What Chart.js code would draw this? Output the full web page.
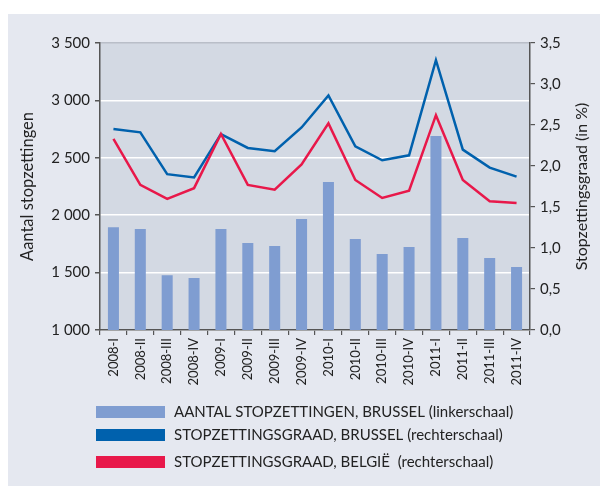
<!DOCTYPE html>
<html><head><meta charset="utf-8">
<script src="https://cdn.jsdelivr.net/npm/chart.js@4/dist/chart.umd.min.js"></script>
<style>html,body{margin:0;padding:0;background:#fff}#wrap{width:600px;height:486px;position:relative}</style>
</head><body><div id="wrap"><canvas id="c"></canvas></div>
<script>
const categories = ['2008-I','2008-II','2008-III','2008-IV','2009-I','2009-II','2009-III','2009-IV','2010-I','2010-II','2010-III','2010-IV','2011-I','2011-II','2011-III','2011-IV'];
const aantalBrussel = [1895,1880,1478,1453,1880,1758,1732,1967,2289,1793,1662,1723,2690,1801,1627,1549];
const graadBrussel = [2.45,2.41,1.90,1.86,2.39,2.22,2.18,2.47,2.86,2.24,2.07,2.13,3.29,2.20,1.98,1.87];
const graadBelgie  = [2.33,1.77,1.60,1.73,2.39,1.77,1.71,2.02,2.52,1.83,1.61,1.70,2.62,1.83,1.57,1.55];
const leftTicks = [1000,1500,2000,2500,3000,3500];
const rightTicks = [0,0.5,1,1.5,2,2.5,3,3.5];
const labels = ['AANTAL STOPZETTINGEN, BRUSSEL (linkerschaal)','STOPZETTINGSGRAAD, BRUSSEL (rechterschaal)','STOPZETTINGSGRAAD, BELGIË  (rechterschaal)'];
const colors = ['#7f9dd1','#0061ad','#e8184a'];
const rightTitle = 'Stopzettingsgraad (in %)';

Chart.defaults.font.family = 'Lato, "Open Sans", sans-serif';
Chart.defaults.color = '#222';

const bgPlugin = {
  id: 'bg',
  beforeDraw(chart) {
    const {ctx, chartArea: a} = chart;
    ctx.save();
    ctx.fillStyle = '#e5e8f0';
    ctx.fillRect(8, 14, 592, 472);
    ctx.fillStyle = '#d3d9e3';
    ctx.fillRect(a.left, a.top, a.right - a.left, a.bottom - a.top);
    ctx.restore();
  }
};
const legendPlugin = {
  id: 'customLegend',
  afterDraw(chart) {
    const ctx = chart.ctx;
    const a = chart.chartArea;
    ctx.save();
    const rows = [412, 435, 462];
    ctx.font = '15px Lato, "Open Sans", sans-serif';
    ctx.textBaseline = 'middle';
    labels.forEach((lab, i) => {
      ctx.fillStyle = colors[i];
      ctx.fillRect(96, rows[i] - 6, 69, 12);
      ctx.fillStyle = '#222';
      ctx.fillText(lab, 174, rows[i]);
    });
    // right axis title, reading bottom-to-top
    ctx.font = '16px Lato, "Open Sans", sans-serif';
    ctx.textAlign = 'center';
    ctx.translate(582, (a.top + a.bottom) / 2);
    ctx.rotate(-Math.PI / 2);
    ctx.fillText(rightTitle, 0, 0);
    ctx.restore();
  }
};

new Chart(document.getElementById('c'), {
  data: {
    labels: categories,
    datasets: [
      {type:'line', label: labels[1], data: graadBrussel, yAxisID:'y1', borderColor: colors[1], backgroundColor: colors[1], borderWidth: 2.5, pointRadius: 0, tension: 0, order: 1},
      {type:'line', label: labels[2], data: graadBelgie, yAxisID:'y1', borderColor: colors[2], backgroundColor: colors[2], borderWidth: 2.5, pointRadius: 0, tension: 0, order: 0},
      {type:'bar', label: labels[0], data: aantalBrussel, yAxisID:'y', backgroundColor: colors[0], categoryPercentage: 1, barPercentage: 0.41, order: 2}
    ]
  },
  options: {
    responsive: true, maintainAspectRatio: false, animation: false,
    layout: {padding: {left: 8, top: 43, right: 0, bottom: 100}},
    plugins: {legend: {display: false}, tooltip: {enabled: false}},
    scales: {
      x: {
        offset: true,
        grid: {drawOnChartArea: false, offset: true, tickLength: 5, tickColor: '#555', lineWidth: 1.2},
        border: {color: '#555', width: 1.5},
        ticks: {minRotation: 90, maxRotation: 90, autoSkip: false, padding: 3, font: {size: 13}, color: '#222'},
        afterFit(s) { s.height = 56; }
      },
      y: {
        position: 'left', min: 1000, max: 3500,
        afterBuildTicks(s) { s.ticks = leftTicks.map(v => ({value: v})); },
        ticks: {padding: 5, font: {size: 15}, color: '#222', callback: v => String(v).replace(/\B(?=(\d{3})+(?!\d))/g, ' ')},
        grid: {color: c => c.tick && c.tick.value === 3500 ? '#b9bec8' : '#ffffff', lineWidth: 1.5, tickLength: 5, tickColor: '#555'},
        border: {color: '#555', width: 1.5},
        title: {display: true, text: 'Aantal stopzettingen', font: {size: 16.5}, color: '#222', padding: {top: 10, bottom: 0}},
        afterFit(s) { s.width = 92; }
      },
      y1: {
        position: 'right', min: 0, max: 3.5,
        afterBuildTicks(s) { s.ticks = rightTicks.map(v => ({value: v})); },
        ticks: {padding: 5, font: {size: 15}, color: '#222', callback: v => v.toFixed(1).replace('.', ',')},
        grid: {drawOnChartArea: false, tickLength: 5, tickColor: '#555', lineWidth: 1.2},
        border: {color: '#555', width: 1.5},
        afterFit(s) { s.width = 70; }
      }
    }
  },
  plugins: [bgPlugin, legendPlugin]
});
</script></body></html>
